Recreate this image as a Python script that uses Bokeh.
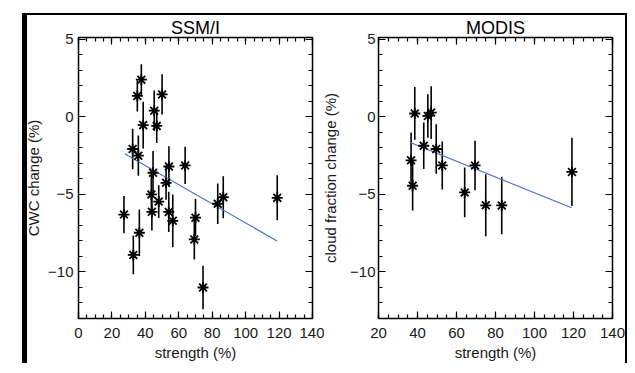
from bokeh.plotting import figure
from bokeh.models import Range1d, LinearAxis, SingleIntervalTicker, CustomJSTickFormatter, Spacer
from bokeh.layouts import row, column
from bokeh.embed import file_html
from bokeh.resources import INLINE

# SSM/I panel data
ssmi_strength = [37.6, 35.2, 50.0, 45.3, 46.8, 38.7, 32.4, 35.8, 44.6, 54.1, 63.8, 52.4, 43.6,
                 48.0, 27.2, 43.9, 54.0, 56.4, 70.0, 69.3, 83.3, 86.6, 118.9, 36.4, 32.8, 74.5]
ssmi_change = [2.4, 1.35, 1.45, 0.4, -0.58, -0.53, -2.07, -2.5, -3.6, -3.2, -3.13, -4.25, -5.0,
               -5.46, -6.3, -6.12, -6.13, -6.7, -6.5, -7.9, -5.6, -5.18, -5.22, -7.47, -8.9, -11.0]
ssmi_err = [1.0, 1.0, 1.3, 1.3, 1.1, 1.5, 1.3, 1.3, 1.4, 1.3, 1.2, 1.1, 1.3,
            1.06, 1.2, 1.2, 1.3, 1.7, 1.2, 1.3, 1.3, 1.35, 1.45, 1.5, 1.25, 1.4]
ssmi_fit_x = [27.6, 118.8]
ssmi_fit_y = [-2.37, -8.0]

# MODIS panel data
modis_strength = [36.7, 37.5, 38.6, 43.2, 45.3, 47.0, 49.6, 52.7, 64.2, 69.5, 75.0, 83.2, 119.2]
modis_change = [-2.8, -4.44, 0.22, -1.86, 0.06, 0.28, -2.07, -3.13, -4.87, -3.13, -5.7, -5.71, -3.55]
modis_err = [1.8, 1.6, 1.7, 1.5, 1.4, 1.7, 1.6, 1.55, 1.6, 1.6, 2.0, 1.85, 2.2]
modis_fit_x = [36.3, 119.0]
modis_fit_y = [-1.65, -5.86]

FONT = "Liberation Sans"
TXT = "#1a1a1a"


def style_axis(ax, labels=True):
    ax.axis_line_color = None
    ax.major_tick_in = 7
    ax.major_tick_out = 0
    ax.minor_tick_in = 4
    ax.minor_tick_out = 0
    ax.major_tick_line_color = "black"
    ax.minor_tick_line_color = "black"
    ax.major_tick_line_width = 1.2
    ax.minor_tick_line_width = 1.2
    ax.major_label_text_font = FONT
    ax.major_label_text_font_size = "15px"
    ax.major_label_text_color = TXT
    ax.axis_label_text_font = FONT
    ax.axis_label_text_font_size = "15px"
    ax.axis_label_text_font_style = "normal"
    ax.axis_label_text_color = TXT
    if not labels:
        ax.formatter = CustomJSTickFormatter(code="return ''")
        ax.major_label_standoff = 0


def make(title, xr, ylabel, xs, ys, es, fx, fy, width, mbl, mbr, y_std, y_lab_std, shift):
    p = figure(width=width, height=348, x_range=Range1d(*xr), y_range=Range1d(-13, 5.12),
               output_backend="svg", toolbar_location=None,
               min_border_left=mbl, min_border_right=mbr, min_border_top=22, min_border_bottom=41,
               margin=(0, 0, 0, -shift))
    p.title.text = title
    p.title.align = "center"
    p.title.text_font = FONT
    p.title.text_font_size = "18px"
    p.title.text_font_style = "normal"
    p.title.text_color = "black"
    p.title.standoff = 0
    p.grid.visible = False
    p.outline_line_color = "black"
    p.outline_line_width = 1.5
    p.background_fill_color = "white"
    p.border_fill_color = None

    p.xaxis.ticker = SingleIntervalTicker(interval=20, num_minor_ticks=4)
    p.yaxis.ticker = SingleIntervalTicker(interval=5, num_minor_ticks=5)
    p.xaxis.axis_label = "strength (%)"
    p.yaxis.axis_label = ylabel
    style_axis(p.xaxis[0])
    style_axis(p.yaxis[0])
    p.xaxis.major_label_standoff = 9
    p.xaxis.axis_label_standoff = 3
    p.yaxis.major_label_standoff = y_std
    p.yaxis.axis_label_standoff = y_lab_std

    top = LinearAxis(ticker=SingleIntervalTicker(interval=20, num_minor_ticks=4))
    style_axis(top, labels=False)
    p.add_layout(top, "above")
    right = LinearAxis(ticker=SingleIntervalTicker(interval=5, num_minor_ticks=5))
    style_axis(right, labels=False)
    p.add_layout(right, "right")

    lo = [y - e for y, e in zip(ys, es)]
    hi = [y + e for y, e in zip(ys, es)]
    p.segment(x0=xs, y0=lo, x1=xs, y1=hi, line_color="black", line_width=1.6)
    p.line(fx, fy, line_color="#4d6fc8", line_width=1.2)
    p.scatter(xs, ys, marker="asterisk", size=11, line_color="black", line_width=1.8)
    return p


p1 = make("SSM/I", (0, 140), "CWC change (%)", ssmi_strength, ssmi_change, ssmi_err,
          ssmi_fit_x, ssmi_fit_y, 306, 60, 12, 5, 3, 9)
p2 = make("MODIS", (20, 140), "cloud fraction change (%)", modis_strength, modis_change, modis_err,
          modis_fit_x, modis_fit_y, 307, 60, 13, 3, 8, 6)

black = {"background-color": "black"}
left_bar = Spacer(width=5, height=348, styles=black)
right_bar = Spacer(width=2, height=348, styles=black)
top_line = Spacer(width=605, height=2, styles=black)

layout = column(
    Spacer(width=605, height=13),
    row(Spacer(width=22, height=350),
        column(top_line, row(left_bar, p1, p2, right_bar))),
    styles={"background-color": "white"},
)

open("out.html", "w").write(file_html(layout, INLINE))
